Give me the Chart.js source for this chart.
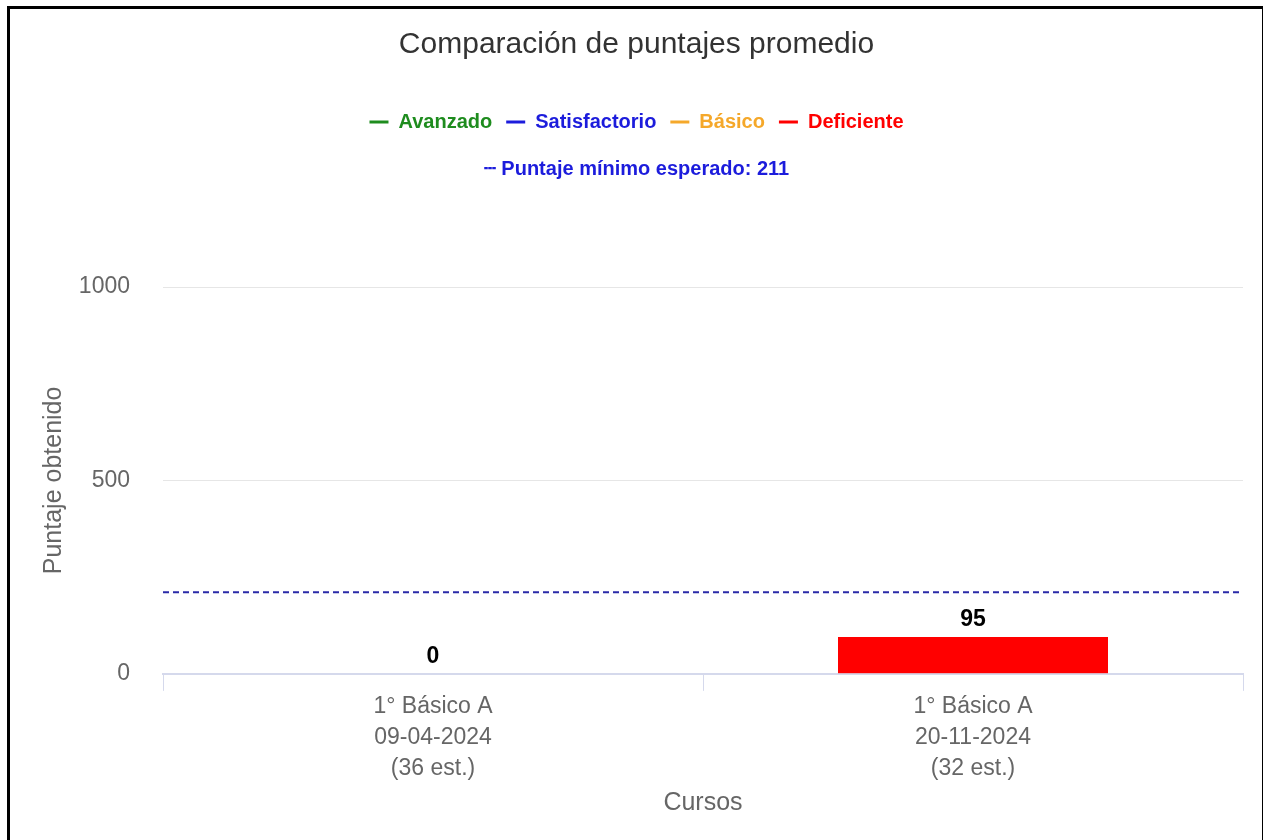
<!DOCTYPE html>
<html lang="es">
<head>
<meta charset="utf-8">
<title>Comparación de puntajes promedio</title>
<script src="https://cdn.jsdelivr.net/npm/chart.js@4.4.1/dist/chart.umd.min.js"></script>
<style>
  html, body { margin: 0; padding: 0; background: #fff; overflow: hidden; }
  #marco {
    position: absolute; left: 7px; top: 6px;
    width: 1252px; height: 900px;
    border-left: 3px solid #000; border-top: 3px solid #000; border-right: 1px solid #000;
  }
  #caja { position: relative; width: 1252px; height: 831px; }
</style>
</head>
<body>
<div id="marco">
  <div id="caja"><canvas id="graficoPuntajes"></canvas></div>
</div>
<script>
// Datos del gráfico
const cursos = [
  ["1° Básico A", "09-04-2024", "(36 est.)"],
  ["1° Básico A", "20-11-2024", "(32 est.)"]
];
const puntajes = [0, 95];
const niveles = ["Avanzado", "Satisfactorio", "Básico", "Deficiente"];
const coloresNivel = ["#1e8c1e", "#1c1cdc", "#f5a82a", "#ff0000"];
const nivelCurso = [3, 3]; // índice en niveles
const puntajeMinimo = 211;
const ticksY = [0, 500, 1000];

const fuente = "'Liberation Sans', Arial, Helvetica, sans-serif";
const gris = "#666";

// linea punteada del puntaje minimo
const lineaMinima = {
  id: "lineaMinima",
  afterDatasetsDraw(chart) {
    const { ctx, chartArea, scales } = chart;
    const y = scales.y.getPixelForValue(puntajeMinimo);
    ctx.save();
    ctx.strokeStyle = "#2a2aa8";
    ctx.lineWidth = 2;
    ctx.setLineDash([6, 4]);
    ctx.beginPath();
    ctx.moveTo(chartArea.left, y);
    ctx.lineTo(chartArea.right, y);
    ctx.stroke();
    ctx.restore();
  }
};

// valores sobre cada barra
const etiquetasBarras = {
  id: "etiquetasBarras",
  afterDatasetsDraw(chart) {
    const { ctx } = chart;
    const meta = chart.getDatasetMeta(0);
    ctx.save();
    ctx.font = "bold 23px " + fuente;
    ctx.fillStyle = "#000";
    ctx.textAlign = "center";
    ctx.textBaseline = "bottom";
    meta.data.forEach((bar, i) => {
      ctx.fillText(puntajes[i], bar.x, bar.y - 6);
    });
    ctx.restore();
  }
};

const ctx = document.getElementById("graficoPuntajes").getContext("2d");
const grafico = new Chart(ctx, {
  type: "bar",
  data: {
    labels: cursos,
    datasets: [
      {
        label: "Puntaje promedio",
        data: puntajes,
        backgroundColor: nivelCurso.map((n) => coloresNivel[n]),
        barPercentage: 0.5,
        categoryPercentage: 1.0,
      },
    ],
  },
  options: {
    responsive: true,
    maintainAspectRatio: false,
    animation: false,
    layout: {
      padding: { left: 20, right: 19, top: 0, bottom: 22 },
    },
    plugins: {
      title: {
        display: true,
        text: "Comparación de puntajes promedio",
        color: "#333",
        font: { family: fuente, size: 30, weight: "normal" },
        padding: { top: 18, bottom: 35 },
      },
      legend: {
        display: true,
        onClick: null,
        labels: {
          usePointStyle: true,
          pointStyleWidth: 19,
          padding: 14,
          font: { family: fuente, size: 20, weight: "bold" },
          generateLabels: () =>
            niveles.map((nombre, i) => ({
              text: nombre,
              fillStyle: coloresNivel[i],
              strokeStyle: coloresNivel[i],
              fontColor: coloresNivel[i],
              lineWidth: 3,
              pointStyle: "line",
              hidden: false,
              datasetIndex: 0,
            })),
        },
      },
      subtitle: {
        display: true,
        weight: 500,
        text: "┄ Puntaje mínimo esperado: " + puntajeMinimo,
        color: "#1c1cdc",
        font: { family: fuente, size: 20, weight: "bold" },
        padding: { top: 15, bottom: 106 },
      },
      tooltip: { enabled: false },
    },
    scales: {
      x: {
        offset: true,
        grid: {
          drawOnChartArea: false,
          color: "#d5d9ec",
          tickLength: 17,
        },
        border: { color: "#d5d9ec", width: 2 },
        ticks: {
          color: gris,
          padding: 0,
          font: { family: fuente, size: 23, lineHeight: 1.35 },
        },
        title: {
          display: true,
          text: "Cursos",
          color: gris,
          font: { family: fuente, size: 25 },
          padding: { top: 4, bottom: 0 },
        },
      },
      y: {
        min: ticksY[0],
        max: ticksY[ticksY.length - 1],
        afterBuildTicks: (axis) => {
          axis.ticks = ticksY.map((v) => ({ value: v }));
        },
        afterFit: (axis) => {
          axis.width = 133;
        },
        grid: { color: "#e6e6e6", drawTicks: false },
        border: { display: false },
        ticks: {
          color: gris,
          padding: 33,
          font: { family: fuente, size: 23 },
          callback: (value) => String(value),
        },
        title: {
          display: true,
          text: "Puntaje obtenido",
          color: gris,
          font: { family: fuente, size: 25 },
          padding: { top: 9, bottom: 0 },
        },
      },
    },
  },
  plugins: [lineaMinima, etiquetasBarras],
});
</script>
</body>
</html>
